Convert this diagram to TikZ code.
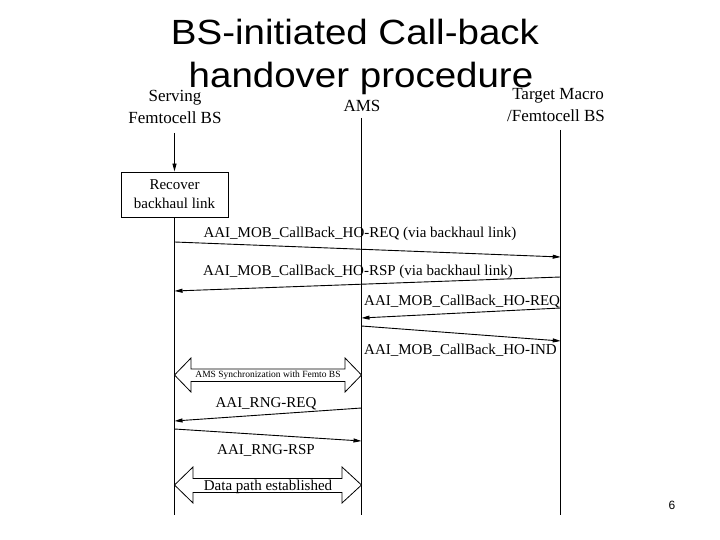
\documentclass[tikz,border=0pt]{standalone}
\usepackage{fontspec}
\setmainfont{Liberation Serif}
\newfontfamily\titlefont{Liberation Sans}
\usetikzlibrary{arrows.meta}
\begin{document}
\begin{tikzpicture}[x=1pt,y=-1pt,
  lifeline/.style={line width=0.9pt},
  msg/.style={line width=0.9pt,-{Triangle[length=8pt,width=4pt]}},
  lbl/.style={font=\fontsize{15}{18}\selectfont,inner sep=0pt},
  hdr/.style={font=\fontsize{17}{22}\selectfont,inner sep=0pt,anchor=base},
  ttl/.style={font=\titlefont\fontsize{35}{40}\selectfont,inner sep=0pt,anchor=base},
  blockarrow/.style={draw,line width=0.8pt,fill=white}]
\useasboundingbox (0,0) rectangle (720,540);
% title
\node[ttl] (title1) at (355,45) {\scalebox{1.1}[1]{BS-initiated Call-back}};
\node[ttl] (title2) at (361,88) {\scalebox{1.1}[1]{handover procedure}};
% headers
\node[hdr] (hs1) at (175,102) {Serving};
\node[hdr] (hs2) at (175,124) {Femtocell BS};
\node[hdr] (ha) at (362,112) {AMS};
\node[hdr] (ht1) at (558,100) {Target Macro};
\node[hdr] (ht2) at (556,122) {/Femtocell BS};
% lifelines
\coordinate (stop) at (174.5,133);
\node[draw,line width=0.9pt,minimum width=107pt,minimum height=45pt,inner sep=0pt,
  align=center,font=\fontsize{15}{19}\selectfont] (rec) at (174.5,194.5) {Recover\\backhaul link};
\coordinate (sbot) at (174.5,515);
\coordinate (atop) at (361.5,118);
\coordinate (abot) at (361.5,515);
\coordinate (ttop) at (560.7,130);
\coordinate (tbot) at (560.7,515);
\draw[msg] (stop) -- (rec.north);
\draw[lifeline] (rec.south) -- (sbot);
\draw[lifeline] (atop) -- (abot);
\draw[lifeline] (ttop) -- (tbot);
% messages
\coordinate (m1a) at (174.5,242); \coordinate (m1b) at (560.7,257);
\draw[msg] (m1a) -- (m1b);
\node[lbl,anchor=base] (l1) at (360,237) {AAI\_MOB\_CallBack\_HO-REQ (via backhaul link)};
\coordinate (m2a) at (560.7,277); \coordinate (m2b) at (174.5,291);
\draw[msg] (m2a) -- (m2b);
\node[lbl,anchor=base] (l2) at (358,275) {AAI\_MOB\_CallBack\_HO-RSP (via backhaul link)};
\coordinate (m3a) at (560.7,308); \coordinate (m3b) at (361.5,318);
\draw[msg] (m3a) -- (m3b);
\node[lbl,anchor=base west] (l3) at (364,305) {AAI\_MOB\_CallBack\_HO-REQ};
\coordinate (m4a) at (361.5,326); \coordinate (m4b) at (560.7,341);
\draw[msg] (m4a) -- (m4b);
\node[lbl,anchor=base west] (l4) at (364,354) {AAI\_MOB\_CallBack\_HO-IND};
% sync block arrow
\draw[blockarrow] (174.5,375) -- (191,358) -- (191,369) -- (345,369) -- (345,358) -- (361.5,375)
  -- (345,392) -- (345,381.5) -- (191,381.5) -- (191,392) -- cycle;
\node[inner sep=0pt,font=\fontsize{9.5}{11}\selectfont] (sync) at (268,375.5) {AMS Synchronization with Femto BS};
% ranging
\coordinate (r1a) at (361.5,408); \coordinate (r1b) at (174.5,421);
\draw[msg] (r1a) -- (r1b);
\node[lbl,anchor=base] (lr1) at (266,407) {AAI\_RNG-REQ};
\coordinate (r2a) at (174.5,429); \coordinate (r2b) at (361.5,441);
\draw[msg] (r2a) -- (r2b);
\node[lbl,anchor=base] (lr2) at (266,454) {AAI\_RNG-RSP};
% data path block arrow
\draw[blockarrow] (174.5,485) -- (193,467) -- (193,478.5) -- (342,478.5) -- (342,467) -- (361.5,485)
  -- (342,503) -- (342,492.5) -- (193,492.5) -- (193,503) -- cycle;
\node[lbl,anchor=base] (dp) at (268,490) {Data path established};
% page number
\node[inner sep=0pt,font=\titlefont\fontsize{12}{14}\selectfont] (pg) at (672,505) {6};
\end{tikzpicture}
\end{document}
